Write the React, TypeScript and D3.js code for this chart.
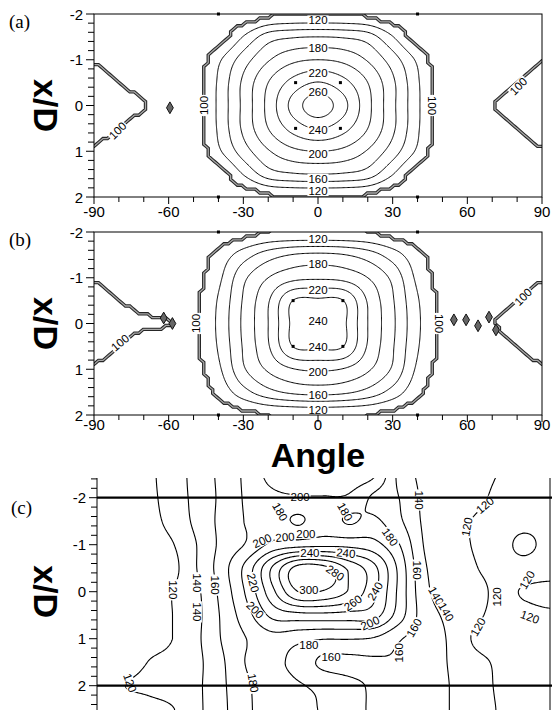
import React from "react";
import * as d3 from "d3";

// grid of the measured field (angle in degrees, x/D)
const GRID_ANGLE = [-90, -80, -70, -60, -50, -40, -30, -20, -10, 0, 10, 20, 30, 40, 50, 60, 70, 80, 90];
const GRID_XD = [-2, -1.5, -1, -0.5, 0, 0.5, 1, 1.5, 2];
const GRID_XD_C = [-2.5, -2, -1.5, -1, -0.5, 0, 0.5, 1, 1.5, 2, 2.5];

// panel (a) values, rows follow GRID_XD, columns GRID_ANGLE
const FIELD_A = [
  [88, 86, 85, 85, 85, 85, 86, 96, 99.3, 99.5, 99.3, 96, 86, 85, 85, 85, 85, 86, 88],
  [95, 86, 85, 85, 85, 90, 121, 150, 158, 160, 158, 150, 121, 90, 85, 85, 85, 86, 95],
  [99, 92, 86, 85, 85, 116, 150, 178, 195, 200, 195, 178, 150, 116, 85, 85, 86, 93, 99.3],
  [107, 99.5, 92, 86, 85, 123, 164, 200, 227, 241, 227, 200, 164, 123, 85, 86, 92, 100.3, 107],
  [115, 108, 101, 92, 85, 124, 165, 206, 247, 272, 247, 206, 165, 124, 85, 92, 99.6, 107, 115],
  [106, 99.5, 91, 86, 85, 123, 164, 200, 227, 241, 227, 200, 164, 123, 85, 86, 92, 100.5, 106],
  [98.5, 92, 86, 85, 85, 116, 150, 178, 195, 200, 195, 178, 150, 116, 85, 85, 86, 93, 99],
  [95, 86, 85, 85, 85, 90, 121, 150, 158, 160, 158, 150, 121, 90, 85, 85, 85, 86, 95],
  [88, 86, 85, 85, 85, 85, 86, 96, 99.3, 99.5, 99.3, 96, 86, 85, 85, 85, 85, 86, 88],
];

// panel (b)
const FIELD_B = [
  [88, 86, 85, 85, 85, 86, 93, 99.5, 100.5, 100, 100.5, 99.5, 93, 86, 85, 85, 85, 86, 88],
  [92, 86, 85, 85, 88, 106, 130, 150, 161, 164, 161, 150, 130, 106, 88, 85, 85, 86, 92],
  [98.5, 92, 86, 85, 92, 115, 155, 180, 194, 197, 194, 180, 155, 115, 92, 85, 86, 92, 98.7],
  [107, 100.3, 94, 89, 95, 122, 162, 198, 240.5, 243, 240.5, 198, 162, 122, 95, 88, 93, 100.5, 107],
  [112, 107, 102, 100.4, 96, 124, 164, 200, 244, 246, 244, 200, 164, 124, 96, 93, 99, 106, 112],
  [106, 99.8, 92, 88, 95, 122, 162, 198, 240.5, 243, 240.5, 198, 162, 122, 95, 88, 92, 100.5, 106],
  [98, 92, 86, 85, 93, 116, 157, 183, 199, 203, 199, 183, 157, 116, 93, 85, 86, 92, 98.5],
  [92, 86, 85, 85, 88, 105, 132, 153, 164, 167, 164, 153, 132, 105, 88, 85, 85, 86, 92],
  [88, 86, 85, 85, 85, 86, 94, 99.6, 101, 102, 101, 99.6, 94, 86, 85, 85, 85, 86, 88],
];

// panel (c), rows follow GRID_XD_C
const FIELD_C = [
  [112, 111, 116, 130, 148, 166, 186, 208, 214, 214, 212, 203, 155, 135, 130, 125, 119.5, 117, 116],
  [112, 110, 115, 129, 147, 165, 184, 195, 198, 199, 197, 176, 160, 136, 130, 124, 117, 116, 116],
  [110, 110, 114, 126, 146, 166, 182, 188, 178, 190, 178, 184, 164, 137, 128, 119, 116, 116, 116],
  [108, 110, 113, 119, 141, 166, 183, 206, 212, 215, 214, 207, 181, 139, 128, 119, 116, 123, 115],
  [108, 110, 112, 115, 141, 172, 210, 264, 308, 306, 276, 246, 195, 143, 133, 121, 117, 116, 114],
  [108, 110, 113, 120, 137, 168, 206, 256, 300, 298, 278, 245, 195, 146, 132, 124, 118, 121, 124],
  [105, 110, 113, 120, 136, 164, 194, 226, 233, 234, 232, 228, 190, 150, 136, 123, 117, 117, 118],
  [106, 110, 113, 120, 137, 162, 181, 192, 186, 181, 181, 178, 162, 150, 138, 118, 116, 116, 116],
  [106, 109, 120, 126, 136, 158, 182, 185, 172, 156, 155, 157, 158, 148, 139, 125, 118, 116, 116],
  [106, 119, 124, 130, 137, 157, 178, 190, 182, 175, 165, 158, 156, 147, 140, 128, 118, 116, 117],
  [106, 109, 113, 119, 136, 156, 177, 190, 185, 178, 166, 158, 155, 146, 140, 128, 119, 116, 117],
];

const LEVELS_A = [120, 140, 160, 180, 200, 220, 240, 260];
const LEVELS_B = [120, 140, 160, 180, 200, 220, 240];
const LEVELS_C = [120, 140, 160, 180, 200, 220, 240, 260, 280, 300];
const EDGE_LEVEL = [100];

const X_TICKS = [-90, -60, -30, 0, 30, 60, 90];
const X_MINOR = [-80, -70, -50, -40, -20, -10, 10, 20, 40, 50, 70, 80];
const Y_TICKS = [-2, -1, 0, 1, 2];
const Y_MINOR = [-1.8, -1.6, -1.4, -1.2, -0.8, -0.6, -0.4, -0.2, 0.2, 0.4, 0.6, 0.8, 1.2, 1.4, 1.6, 1.8];
const Y_MINOR_C = [-2.4, -2.2, ...Y_MINOR, 2.2, 2.4];

type Label = [number, number, string, number];

const LABELS_A: Label[] = [
  [0, -1.86, "120", 0], [0, -1.25, "180", 0], [0, -0.72, "220", 0], [0, -0.3, "260", 0],
  [0, 0.53, "240", 0], [0, 1.07, "200", 0], [0, 1.6, "160", 0], [0, 1.87, "120", 0],
  [-46, 0, "100", -90], [46, 0, "100", 90], [-80.5, 0.55, "100", -45], [80.5, -0.42, "100", -45],
];

const LABELS_B: Label[] = [
  [0, -1.84, "120", 0], [0, -1.3, "180", 0], [0, -0.74, "220", 0], [0, -0.05, "240", 0],
  [0, 0.51, "240", 0], [0, 1.05, "200", 0], [0, 1.57, "160", 0], [0, 1.88, "120", 0],
  [-49, 0, "100", -90], [48.6, 0, "100", 90], [-79.5, 0.42, "100", -40], [82.4, -0.58, "100", -45],
];

const LABELS_C: Label[] = [
  [-59.8, -0.04, "120", 90], [-50.3, -0.19, "140", 90], [-50.3, 0.43, "140", 90],
  [-43.1, -0.14, "160", 90], [-28, -0.19, "220", 75], [-27.2, 0.39, "200", 45],
  [-24.4, -1.08, "200", -25], [-15.3, -1.16, "200", -5], [-7, -1.23, "200", 0],
  [-5.4, -0.82, "240", 0], [8.9, -0.82, "240", 5], [4.6, -0.4, "280", 35],
  [-5.8, -0.04, "300", 0], [11.7, 0.24, "260", -35], [20.5, -0.01, "240", -60],
  [18.5, 0.67, "200", -25], [-5.8, 1.13, "180", 0], [3, 1.39, "160", 0],
  [-17.3, -1.7, "180", 60], [8.5, -1.7, "180", 60], [-9.3, -2.01, "200", 0],
  [26.4, -1.16, "180", 55], [38, -1.95, "140", 90], [37.2, -0.46, "160", 90],
  [44.7, 0.09, "140", 60], [48.7, 0.43, "140", 60], [36, 0.77, "160", -60],
  [30, 1.3, "160", -90], [64.2, -1.84, "120", -40], [57, -1.38, "120", -80],
  [69, 0.11, "120", -90], [61.4, 0.75, "120", -60], [80.9, -0.25, "120", -60],
  [82, 0.54, "120", 20], [-76.9, 1.94, "120", 70], [-28, 1.94, "180", 80],
];

const DOTS_A: [number, number][] = [[-40, -2], [40, -2], [-40, 2], [40, 2], [-9, -0.5], [9, -0.5], [-9, 0.5], [9, 0.5]];
const DOTS_B: [number, number][] = [[-40, -2], [40, -2], [-40, 2], [40, 2], [-10, -0.5], [10, -0.5], [-10, 0.5], [10, 0.5]];
const DIAMONDS_A: [number, number][] = [[-59.5, 0.05]];
const DIAMONDS_B: [number, number][] = [[54.6, -0.08], [59.5, -0.08], [64.3, 0.05], [68.7, -0.14], [71.5, 0.14], [-62, -0.12], [-58.5, 0]];

const SANS = "'Liberation Sans', Arial, Helvetica, sans-serif";
const SERIF = "'Liberation Serif', 'Times New Roman', serif";

function bracket(arr: number[], v: number): [number, number] {
  const n = arr.length;
  if (v <= arr[0]) return [0, 0];
  if (v >= arr[n - 1]) return [n - 2, 1];
  let i = d3.bisectRight(arr, v) - 1;
  if (i > n - 2) i = n - 2;
  return [i, (v - arr[i]) / (arr[i + 1] - arr[i])];
}

function cr(p0: number, p1: number, p2: number, p3: number, t: number) {
  return 0.5 * (2 * p1 + (-p0 + p2) * t + (2 * p0 - 5 * p1 + 4 * p2 - p3) * t * t + (-p0 + 3 * p1 - 3 * p2 + p3) * t * t * t);
}

// bicubic lookup in the grid, clamped to the cell so it never overshoots
function makeSampler(xs: number[], ys: number[], grid: number[][]) {
  const nx = xs.length, ny = ys.length;
  const g = (i: number, j: number) => grid[Math.max(0, Math.min(ny - 1, j))][Math.max(0, Math.min(nx - 1, i))];
  return (x: number, y: number) => {
    const [i, t] = bracket(xs, x);
    const [j, u] = bracket(ys, y);
    const r = [-1, 0, 1, 2].map((k) => cr(g(i - 1, j + k), g(i, j + k), g(i + 1, j + k), g(i + 2, j + k), t));
    const v = cr(r[0], r[1], r[2], r[3], u);
    const c = [g(i, j), g(i + 1, j), g(i, j + 1), g(i + 1, j + 1)];
    return Math.max(Math.min(...c), Math.min(Math.max(...c), v));
  };
}

function contourPaths(
  sampler: (x: number, y: number) => number,
  xr: [number, number], yr: [number, number], step: [number, number],
  levels: number[], smooth: boolean,
  sx: d3.ScaleLinear<number, number>, sy: d3.ScaleLinear<number, number>
) {
  const [a0, a1] = xr, [b0, b1] = yr;
  const nx = Math.round((a1 - a0) / step[0]) + 1;
  const ny = Math.round((b1 - b0) / step[1]) + 1;
  const values = new Array(nx * ny);
  for (let j = 0; j < ny; j++)
    for (let i = 0; i < nx; i++) values[j * nx + i] = sampler(a0 + i * step[0], b0 + j * step[1]);
  const proj = d3.geoTransform({
    point(x: number, y: number) {
      (this as any).stream.point(sx(a0 + (x - 0.5) * step[0]), sy(b0 + (y - 0.5) * step[1]));
    },
  });
  const path = d3.geoPath(proj);
  return d3.contours().size([nx, ny]).smooth(smooth).thresholds(levels)(values).map((c) => ({ value: c.value, d: path(c as any) || "" }));
}

// contour labels sit on a small white patch that breaks the line
function ContourLabels({ labels, sx, sy }: { labels: Label[]; sx: any; sy: any }) {
  return (
    <g fontFamily={SANS} fontSize={11.5} textAnchor="middle">
      {labels.map(([a, x, t, r], k) => {
        const w = t.length * 6.4 + 2;
        return (
          <g key={k} transform={`translate(${sx(a)},${sy(x)}) rotate(${r})`}>
            <rect x={-w / 2} y={-5} width={w} height={10} fill="#fff" />
            <text y={0} dominantBaseline="central" fill="#000">{t}</text>
          </g>
        );
      })}
    </g>
  );
}

function YAxis({ x, sy, minor }: { x: number; sy: any; minor: number[] }) {
  return (
    <g stroke="#000" strokeWidth={1}>
      {Y_TICKS.map((v) => <line key={"M" + v} x1={x - 8} x2={x} y1={sy(v)} y2={sy(v)} />)}
      {minor.map((v) => <line key={"m" + v} x1={x - 6} x2={x} y1={sy(v)} y2={sy(v)} />)}
      {Y_TICKS.map((v) => (
        <text key={"t" + v} x={x - 11} y={sy(v)} textAnchor="end" dominantBaseline="central" stroke="none"
          fontFamily={SANS} fontSize={15}>{v}</text>
      ))}
    </g>
  );
}

function FramePanel({ id, top, field, levels, labels, dots, diamonds, tag, labelGap }: any) {
  const left = 94, right = 542, bottom = top + 183;
  const sx = d3.scaleLinear().domain([-90, 90]).range([left, right]);
  const sy = d3.scaleLinear().domain([-2, 2]).range([top, bottom]);
  const sampler = makeSampler(GRID_ANGLE, GRID_XD, field);
  const lines = contourPaths(sampler, [-91, 91], [-2.04, 2.04], [0.5, 0.02], levels, true, sx, sy);
  const edge = contourPaths(sampler, [-93.6, 93.6], [-2.125, 2.125], [1.8, 0.085], EDGE_LEVEL, false, sx, sy);
  const diamond = d3.symbol(d3.symbolDiamond, 40)();
  return (
    <g>
      <clipPath id={id}><rect x={left} y={top} width={right - left} height={bottom - top} /></clipPath>
      <g clipPath={`url(#${id})`} fill="none">
        {edge.map((c, k) => <path key={"e" + k} d={c.d} stroke="#262626" strokeWidth={3.4} />)}
        {edge.map((c, k) => <path key={"f" + k} d={c.d} stroke="#a8a8a8" strokeWidth={1.3} />)}
        {lines.map((c, k) => <path key={"l" + k} d={c.d} stroke="#000" strokeWidth={1} />)}
      </g>
      {diamonds.map(([a, x]: number[], k: number) => (
        <path key={"d" + k} d={diamond!} transform={`translate(${sx(a)},${sy(x)})`} fill="#666" stroke="#111" strokeWidth={1} />
      ))}
      <ContourLabels labels={labels} sx={sx} sy={sy} />
      {dots.map(([a, x]: number[], k: number) => (
        <rect key={"p" + k} x={sx(a) - 1.5} y={sy(x) - 1.5} width={3} height={3} fill="#000" />
      ))}
      <rect x={left} y={top} width={right - left} height={bottom - top} fill="none" stroke="#000" strokeWidth={1} />
      <g stroke="#000">
        {X_TICKS.map((v) => <line key={"M" + v} x1={sx(v)} x2={sx(v)} y1={bottom} y2={bottom + 7} />)}
        {X_MINOR.map((v) => <line key={"m" + v} x1={sx(v)} x2={sx(v)} y1={bottom} y2={bottom + 5} />)}
      </g>
      {X_TICKS.map((v) => (
        <text key={"t" + v} x={sx(v)} y={bottom + labelGap} textAnchor="middle" fontFamily={SANS} fontSize={15}>{v}</text>
      ))}
      <YAxis x={left} sy={sy} minor={Y_MINOR} />
      <text x={9} y={top + 14} fontFamily={SERIF} fontSize={19}>{tag}</text>
      <text transform={`translate(46,${(top + bottom) / 2}) rotate(90)`} textAnchor="middle" dominantBaseline="central"
        fontFamily={SANS} fontSize={34} fontWeight="bold">x/D</text>
    </g>
  );
}

function PanelC() {
  const left = 97, right = 550, clipTop = 478, clipBottom = 710;
  const sx = d3.scaleLinear().domain([-90, 90]).range([left, right]);
  const sy = d3.scaleLinear().domain([-2, 2]).range([497.7, 685.7]);
  const sampler = makeSampler(GRID_ANGLE, GRID_XD_C, FIELD_C);
  const lines = contourPaths(sampler, [-91, 91], [-2.5, 2.62], [0.5, 0.02], LEVELS_C, true, sx, sy);
  return (
    <g>
      <clipPath id="clipC"><rect x={left} y={clipTop} width={right - left} height={clipBottom - clipTop} /></clipPath>
      <g clipPath="url(#clipC)" fill="none">
        {lines.map((c, k) => <path key={k} d={c.d} stroke="#000" strokeWidth={1.1} />)}
      </g>
      <ContourLabels labels={LABELS_C} sx={sx} sy={sy} />
      <line x1={left} x2={552} y1={sy(-2)} y2={sy(-2)} stroke="#000" strokeWidth={2.2} />
      <line x1={left} x2={552} y1={sy(2)} y2={sy(2)} stroke="#000" strokeWidth={2.2} />
      <line x1={left} x2={left} y1={clipTop} y2={clipBottom} stroke="#000" />
      <line x1={right} x2={right} y1={clipTop} y2={clipBottom} stroke="#000" />
      <YAxis x={left} sy={sy} minor={Y_MINOR_C} />
      <text x={11} y={514} fontFamily={SERIF} fontSize={19}>(c)</text>
      <text transform={`translate(46,${sy(0)}) rotate(90)`} textAnchor="middle" dominantBaseline="central"
        fontFamily={SANS} fontSize={34} fontWeight="bold">x/D</text>
    </g>
  );
}

export default function App() {
  return (
    <svg width={552} height={710} style={{ position: "absolute", left: 0, top: 0, background: "#fff" }}>
      <rect width={552} height={710} fill="#fff" />
      <FramePanel id="clipA" top={14} field={FIELD_A} levels={LEVELS_A} labels={LABELS_A} dots={DOTS_A} diamonds={DIAMONDS_A} tag="(a)" labelGap={20} />
      <FramePanel id="clipB" top={232} field={FIELD_B} levels={LEVELS_B} labels={LABELS_B} dots={DOTS_B} diamonds={DIAMONDS_B} tag="(b)" labelGap={15} />
      <text x={318} y={467} textAnchor="middle" fontFamily={SANS} fontSize={34} fontWeight="bold">Angle</text>
      <PanelC />
    </svg>
  );
}
